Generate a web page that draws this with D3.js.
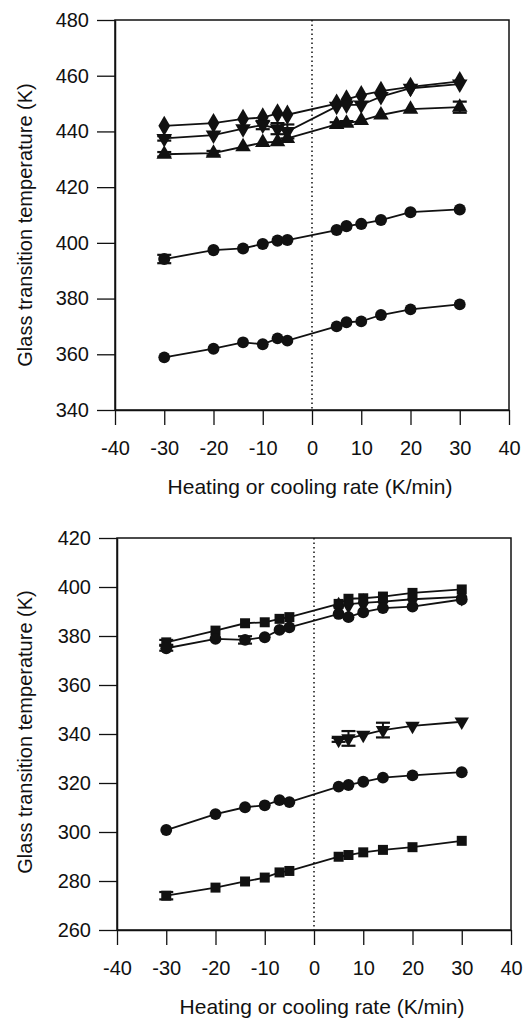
<!DOCTYPE html>
<html>
<head>
<meta charset="utf-8">
<title>Glass transition temperature vs rate</title>
<script src="https://d3js.org/d3.v7.min.js"></script>
<style>
  body { margin: 0; background: #fff; }
  text { font-family: "Liberation Sans", Arial, sans-serif; fill: #111; }
</style>
</head>
<body>
<script>
// rates (K/min)
var rates = [-30, -20, -14, -10, -7, -5, 5, 7, 10, 14, 20, 30];
var ratesHeat = [5, 7, 10, 14, 20, 30];
var xTicks = [-40, -30, -20, -10, 0, 10, 20, 30, 40];
var yTicksTop = [340, 360, 380, 400, 420, 440, 460, 480];
var yTicksBot = [260, 280, 300, 320, 340, 360, 380, 400, 420];

// top panel
var topDiamond = [442, 443, 444.5, 445, 446.5, 446, 450, 451.5, 453, 454.5, 456, 458];
var topDown    = [437.5, 438.7, 441, 442.3, 441, 440, 449, 449.5, 449.5, 452.5, 455.5, 457];
var topUp      = [431.8, 432.2, 434.5, 436, 436.3, 437.5, 442.5, 442.9, 443.9, 445.9, 448, 448.7];
var topHex     = [394.2, 397.4, 398, 399.6, 400.8, 401, 404.6, 406, 406.8, 408.2, 411, 412];
var topCircle  = [358.9, 362, 364.3, 363.6, 365.7, 364.9, 370, 371.5, 371.8, 374.1, 376.1, 377.9];
var topDownErr = [0.8, 0, 0, 1.5, 2, 2.5, 0, 0, 0, 0, 0, 0];
var topUpErr   = [0.8, 0.8, 0, 0, 0, 0, 0.8, 0.8, 0, 0, 0, 2];
var topHexErr  = [1.5, 0, 0, 0, 0, 0, 0, 0, 0, 0, 0, 0];

// bottom panel
var botSquare   = [377.4, 382.2, 385.2, 385.6, 387, 387.7, 393.1, 395.2, 395.4, 396.1, 397.6, 399];
var botMid      = [392, 393, 393.5, 394, 395, 396];
var botDiamond  = [375, 378.8, 378.4, 379.5, 382.5, 383.5, 389, 387.7, 389.7, 391.4, 392, 394.9];
var botDown     = [337.6, 338.2, 339.6, 341.6, 343.3, 345];
var botCircle   = [300.8, 307.3, 310.1, 310.9, 313, 312.2, 318.5, 319.2, 320.5, 322.2, 323.1, 324.4];
var botSqLow    = [274, 277.3, 279.8, 281.4, 283.5, 284.1, 289.9, 290.6, 291.7, 292.7, 293.8, 296.4];
var botSquareErr  = [1, 0, 0, 0, 0, 0, 0, 0, 0, 0, 0, 0];
var botDiamondErr = [1, 0, 1.5, 0, 0, 0, 0, 0, 0, 0, 0, 0];
var botDownErr    = [0.8, 3, 0, 3, 0, 0];
var botSqLowErr   = [1.5, 0, 0, 0, 0, 0, 0, 0, 0, 0, 0, 0];

var svg = d3.select("body").append("svg")
    .attr("width", 523)
    .attr("height", 1021);

// plain hyphen for negatives, like the original
var fmt = function(d) { return String(d); };

function panel(p) {
    var x = d3.scaleLinear().domain([-40, 40]).range([p.x0, p.x1]);
    var y = d3.scaleLinear().domain(p.yDomain).range([p.y1, p.y0]);
    var g = svg.append("g");

    // frame
    g.append("rect")
        .attr("x", p.x0).attr("y", p.y0)
        .attr("width", p.x1 - p.x0).attr("height", p.y1 - p.y0)
        .attr("fill", "none").attr("stroke", "#111").attr("stroke-width", 1.5);

    var xa = g.append("g")
        .attr("transform", "translate(0," + p.y1 + ")")
        .call(d3.axisBottom(x).tickValues(xTicks).tickFormat(fmt)
            .tickSize(15).tickSizeOuter(0).tickPadding(16));
    var ya = g.append("g")
        .attr("transform", "translate(" + p.x0 + ",0)")
        .call(d3.axisLeft(y).tickValues(p.yTicks).tickFormat(fmt)
            .tickSize(18).tickSizeOuter(0).tickPadding(8));
    [xa, ya].forEach(function(a) {
        a.select(".domain").attr("stroke", "#111").attr("stroke-width", 1.5);
        a.selectAll(".tick line").attr("stroke", "#111").attr("stroke-width", 1.3);
        a.selectAll("text").attr("font-size", 20).attr("fill", "#111")
            .style("font-family", "'Liberation Sans', Arial, sans-serif");
    });

    // zero rate dotted line
    g.append("line")
        .attr("x1", x(0)).attr("x2", x(0))
        .attr("y1", p.y0).attr("y2", p.y1)
        .attr("stroke", "#111").attr("stroke-width", 1.5)
        .attr("stroke-dasharray", "1.5,3");

    var line = d3.line()
        .x(function(d) { return x(d[0]); })
        .y(function(d) { return y(d[1]); });

    p.series.forEach(function(s) {
        var pts = s.xs.map(function(v, i) { return [v, s.ys[i], s.err ? s.err[i] : 0]; });
        g.append("path")
            .attr("d", line(pts))
            .attr("fill", "none").attr("stroke", "#111").attr("stroke-width", 1.8);

        var eb = g.append("g");
        pts.filter(function(d) { return d[2] > 0; }).forEach(function(d) {
            var cx = x(d[0]);
            eb.append("line").attr("x1", cx).attr("x2", cx)
                .attr("y1", y(d[1] - d[2])).attr("y2", y(d[1] + d[2]))
                .attr("stroke", "#111").attr("stroke-width", 2);
            [d[1] - d[2], d[1] + d[2]].forEach(function(v) {
                eb.append("line").attr("x1", cx - 7).attr("x2", cx + 7)
                    .attr("y1", y(v)).attr("y2", y(v))
                    .attr("stroke", "#111").attr("stroke-width", 2.2);
            });
        });

        g.selectAll(null)
            .data(pts)
            .enter()
            .append("path")
            .attr("d", d3.symbol().type(s.sym).size(s.size || 100))
            .attr("transform", function(d) {
                return "translate(" + x(d[0]) + "," + y(d[1]) + ")" + (s.flip ? " rotate(180)" : "");
            })
            .attr("fill", "#111");
    });

    g.append("text")
        .attr("transform", "translate(" + p.ylabX + "," + p.ylabY + ") rotate(-90)")
        .attr("text-anchor", "middle")
        .attr("font-size", 20)
        .text("Glass transition temperature (K)");
    g.append("text")
        .attr("x", p.xlabX).attr("y", p.xlabY)
        .attr("text-anchor", "middle")
        .attr("font-size", 21)
        .text("Heating or cooling rate (K/min)");
}

panel({
    x0: 115, x1: 509, y0: 20, y1: 410,
    yDomain: [340, 480], yTicks: yTicksTop,
    ylabX: 32, ylabY: 225, xlabX: 310, xlabY: 494,
    series: [
        { xs: rates, ys: topDiamond, sym: d3.symbolDiamond, size: 120 },
        { xs: rates, ys: topDown, err: topDownErr, sym: d3.symbolTriangle, flip: true, size: 105 },
        { xs: rates, ys: topUp, err: topUpErr, sym: d3.symbolTriangle, size: 105 },
        { xs: rates, ys: topHex, err: topHexErr, sym: d3.symbolCircle, size: 115 },
        { xs: rates, ys: topCircle, sym: d3.symbolCircle, size: 110 }
    ]
});

panel({
    x0: 117, x1: 511, y0: 538, y1: 930,
    yDomain: [260, 420], yTicks: yTicksBot,
    ylabX: 32, ylabY: 732, xlabX: 322, xlabY: 1014,
    series: [
        { xs: rates, ys: botSquare, err: botSquareErr, sym: d3.symbolSquare, size: 100 },
        { xs: ratesHeat, ys: botMid, sym: d3.symbolDiamond, size: 110 },
        { xs: rates, ys: botDiamond, err: botDiamondErr, sym: d3.symbolCircle, size: 110 },
        { xs: ratesHeat, ys: botDown, err: botDownErr, sym: d3.symbolTriangle, flip: true, size: 90 },
        { xs: rates, ys: botCircle, sym: d3.symbolCircle, size: 110 },
        { xs: rates, ys: botSqLow, err: botSqLowErr, sym: d3.symbolSquare, size: 100 }
    ]
});
</script>
</body>
</html>
